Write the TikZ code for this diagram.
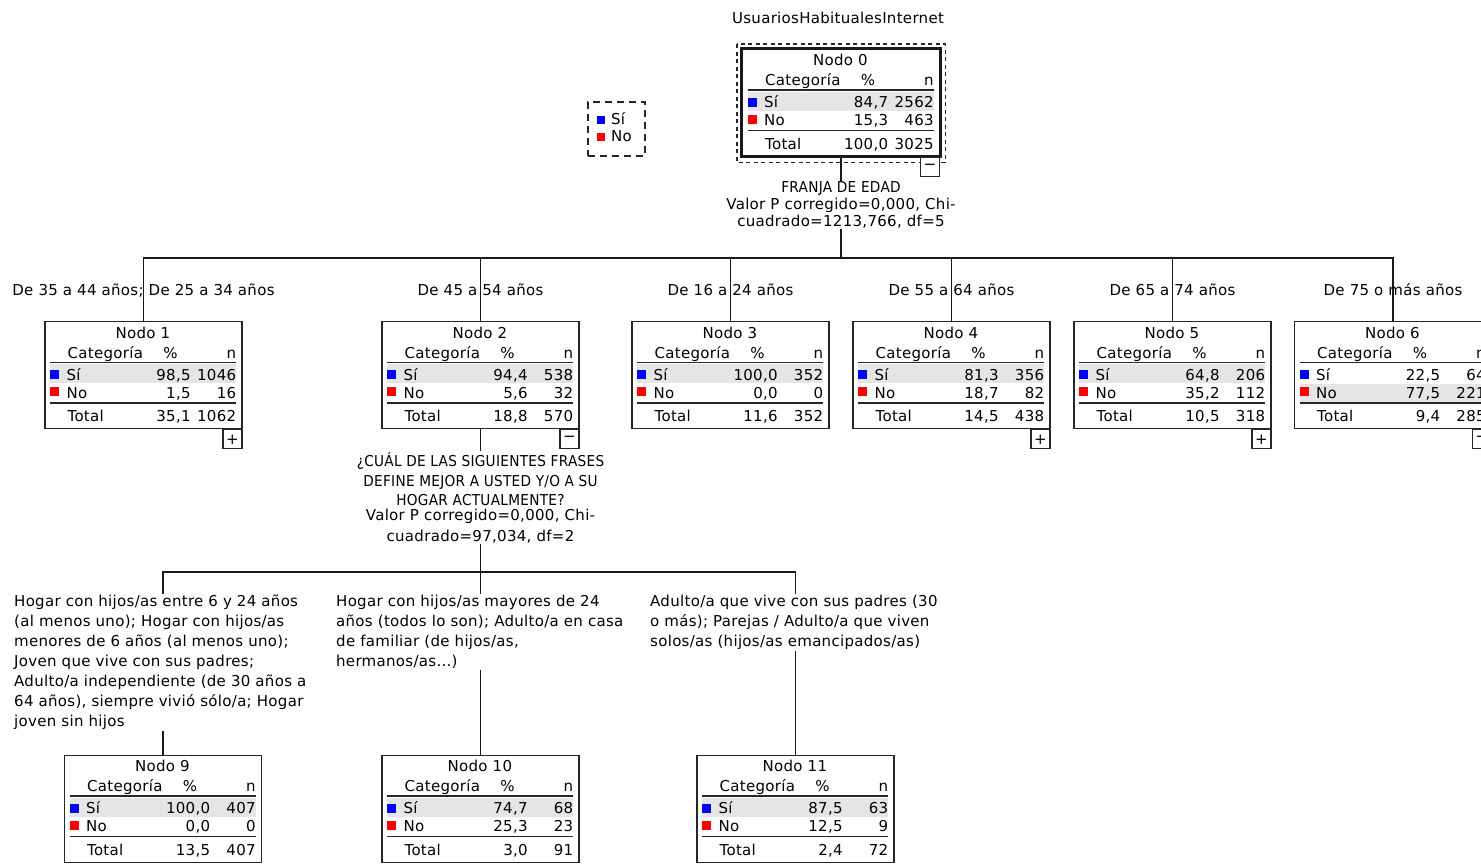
\documentclass[tikz,border=0pt]{standalone}
\usepackage{fontspec}
\setmainfont[LetterSpace=2]{DejaVu Sans}
\newfontfamily\estrecha[FakeStretch=0.91,LetterSpace=2]{DejaVu Sans}
\usepackage{tikz}

\tikzset{
  caja/.style={draw=black!85, line width=1.2pt, fill=white, inner sep=0pt,
    minimum width=197pt, minimum height=107pt},
  boton/.style={draw=black!85, line width=1.2pt, fill=white, inner sep=0pt,
    minimum size=19pt},
  txt/.style={inner sep=0pt},
  regla/.style={line width=1.3pt, black!85},
  linea/.style={line width=1.3pt, black!90},
  etiq/.style={inner sep=0pt, anchor=base},
  split/.style={align=center, fill=white, inner sep=1pt, anchor=north},
  rama/.style={align=left, fill=white, inner sep=1pt, anchor=north west},
  leyenda/.style={draw=black!85, line width=1.2pt, dash pattern=on 7pt off 5pt,
    minimum width=57pt, minimum height=54pt, inner sep=0pt}
}

% #1 node number, #2 top centre, #3 top of grey row, #4-#9 values
\newcommand{\nodotabla}[9]{%
  \node[caja, anchor=north] (n#1) at (#2) {};
  \begin{scope}[shift={(n#1.north west)}]
    \fill[gray!20] (6,#3) rectangle ++(186,19);
    \draw[regla] (6,41.5) -- (192,41.5);
    \draw[regla] (6,82) -- (192,82);
    \fill[blue] (6,49) rectangle (15,58);
    \fill[red] (6,66) rectangle (15,75);
    \node[txt, anchor=base] (n#1tit) at (98.5,17) {Nodo #1};
    \node[txt, anchor=base west] (n#1cat) at (23,37) {Categoría};
    \node[txt, anchor=base] (n#1pc) at (126,37) {\%};
    \node[txt, anchor=base east] (n#1n) at (192,37) {n};
    \node[txt, anchor=base west] (n#1si) at (22,59) {Sí};
    \node[txt, anchor=base east] (n#1sip) at (146.5,59) {#4};
    \node[txt, anchor=base east] (n#1sin) at (192,59) {#5};
    \node[txt, anchor=base west] (n#1no) at (22,77) {No};
    \node[txt, anchor=base east] (n#1nop) at (146.5,77) {#6};
    \node[txt, anchor=base east] (n#1non) at (192,77) {#7};
    \node[txt, anchor=base west] (n#1tot) at (23,100.5) {Total};
    \node[txt, anchor=base east] (n#1totp) at (146.5,100.5) {#8};
    \node[txt, anchor=base east] (n#1totn) at (192,100.5) {#9};
  \end{scope}
}

\begin{document}
\begin{tikzpicture}[x=1pt, y=-1pt, font=\fontsize{15}{20}\selectfont]
  \useasboundingbox (0,0) rectangle (1481,863);
  \clip (0,0) rectangle (1481,863);

  % Nodes
  \node[txt, anchor=base] (titulo) at (838,23) {UsuariosHabitualesInternet};

  \node[leyenda] (leyenda) at (616.5,129) {};
  \fill[blue] ([shift={(10,15)}]leyenda.north west) rectangle ([shift={(18,22.5)}]leyenda.north west);
  \fill[red] ([shift={(10,32)}]leyenda.north west) rectangle ([shift={(18,39.5)}]leyenda.north west);
  \node[txt, anchor=base west] (leysi) at ([shift={(23.5,23.5)}]leyenda.north west) {Sí};
  \node[txt, anchor=base west] (leyno) at ([shift={(23.5,40.5)}]leyenda.north west) {No};

  \nodotabla{0}{841,48.5}{43}{84,7}{2562}{15,3}{463}{100,0}{3025}
  \draw[line width=3pt, black!90] (n0.north west) rectangle (n0.south east);
  \draw[line width=1.2pt, black!85, dash pattern=on 4pt off 3.5pt]
    ([shift={(-5,-4.5)}]n0.north west) rectangle ([shift={(5,5.5)}]n0.south east);

  \nodotabla{1}{143.5,321}{43}{98,5}{1046}{1,5}{16}{35,1}{1062}
  \nodotabla{2}{480.5,321}{43}{94,4}{538}{5,6}{32}{18,8}{570}
  \nodotabla{3}{730.5,321}{43}{100,0}{352}{0,0}{0}{11,6}{352}
  \nodotabla{4}{951.5,321}{43}{81,3}{356}{18,7}{82}{14,5}{438}
  \nodotabla{5}{1172.5,321}{43}{64,8}{206}{35,2}{112}{10,5}{318}
  \nodotabla{6}{1393,321}{63}{22,5}{64}{77,5}{221}{9,4}{285}

  \nodotabla{9}{163,754.5}{43}{100,0}{407}{0,0}{0}{13,5}{407}
  \nodotabla{10}{480.5,754.5}{43}{74,7}{68}{25,3}{23}{3,0}{91}
  \nodotabla{11}{795.5,754.5}{43}{87,5}{63}{12,5}{9}{2,4}{72}

  \node[boton, anchor=north east] (n0btn) at (n0.south east) {−};
  \node[boton, anchor=north east] (n1btn) at (n1.south east) {+};
  \node[boton, anchor=north east] (n2btn) at (n2.south east) {−};
  \node[boton, anchor=north east] (n4btn) at (n4.south east) {+};
  \node[boton, anchor=north east] (n5btn) at (n5.south east) {+};
  \node[boton, anchor=north east] (n6btn) at (n6.south east) {−};

  % Edges
  \coordinate (b0) at (841,258);
  \draw[linea] (n0.south) -- (b0);
  \foreach \i in {1,...,6}
    \draw[linea] (n\i.north) |- (b0);
  \coordinate (b2) at (480.5,572);
  \draw[linea] (n2.south) -- (b2);
  \foreach \i in {9,10,11}
    \draw[linea] (n\i.north) |- (b2);

  % Split labels
  \node[split] (s0) at (841,180.5) {{\estrecha FRANJA DE EDAD}\\[-3pt]
    Valor P corregido=0,000, Chi-\\[-3pt] cuadrado=1213,766, df=5};
  \node[split] (s2) at (480.5,451) {{\estrecha ¿CUÁL DE LAS SIGUIENTES FRASES}\\
    {\estrecha DEFINE MEJOR A USTED Y/O A SU}\\[-1pt]
    {\estrecha HOGAR ACTUALMENTE?}\\[-4.5pt]
    Valor P corregido=0,000, Chi-\\[1pt] cuadrado=97,034, df=2};

  \node[etiq] (e1) at (143.5,295) {De 35 a 44 años; De 25 a 34 años};
  \node[etiq] (e2) at (480.5,295) {De 45 a 54 años};
  \node[etiq] (e3) at (730.5,295) {De 16 a 24 años};
  \node[etiq] (e4) at (951.5,295) {De 55 a 64 años};
  \node[etiq] (e5) at (1172.5,295) {De 65 a 74 años};
  \node[etiq] (e6) at (1393,295) {De 75 o más años};

  \node[rama] (e9) at (13,594) {Hogar con hijos/as entre 6 y 24 años\\
    (al menos uno); Hogar con hijos/as\\ menores de 6 años (al menos uno);\\
    Joven que vive con sus padres;\\ Adulto/a independiente (de 30 años a\\
    64 años), siempre vivió sólo/a; Hogar\\ joven sin hijos};
  \node[rama] (e10) at (335,594) {Hogar con hijos/as mayores de 24\\
    años (todos lo son); Adulto/a en casa\\ de familiar (de hijos/as,\\
    hermanos/as...)};
  \node[rama] (e11) at (649,594) {Adulto/a que vive con sus padres (30\\
    o más); Parejas / Adulto/a que viven\\ solos/as (hijos/as emancipados/as)};
\end{tikzpicture}
\end{document}
